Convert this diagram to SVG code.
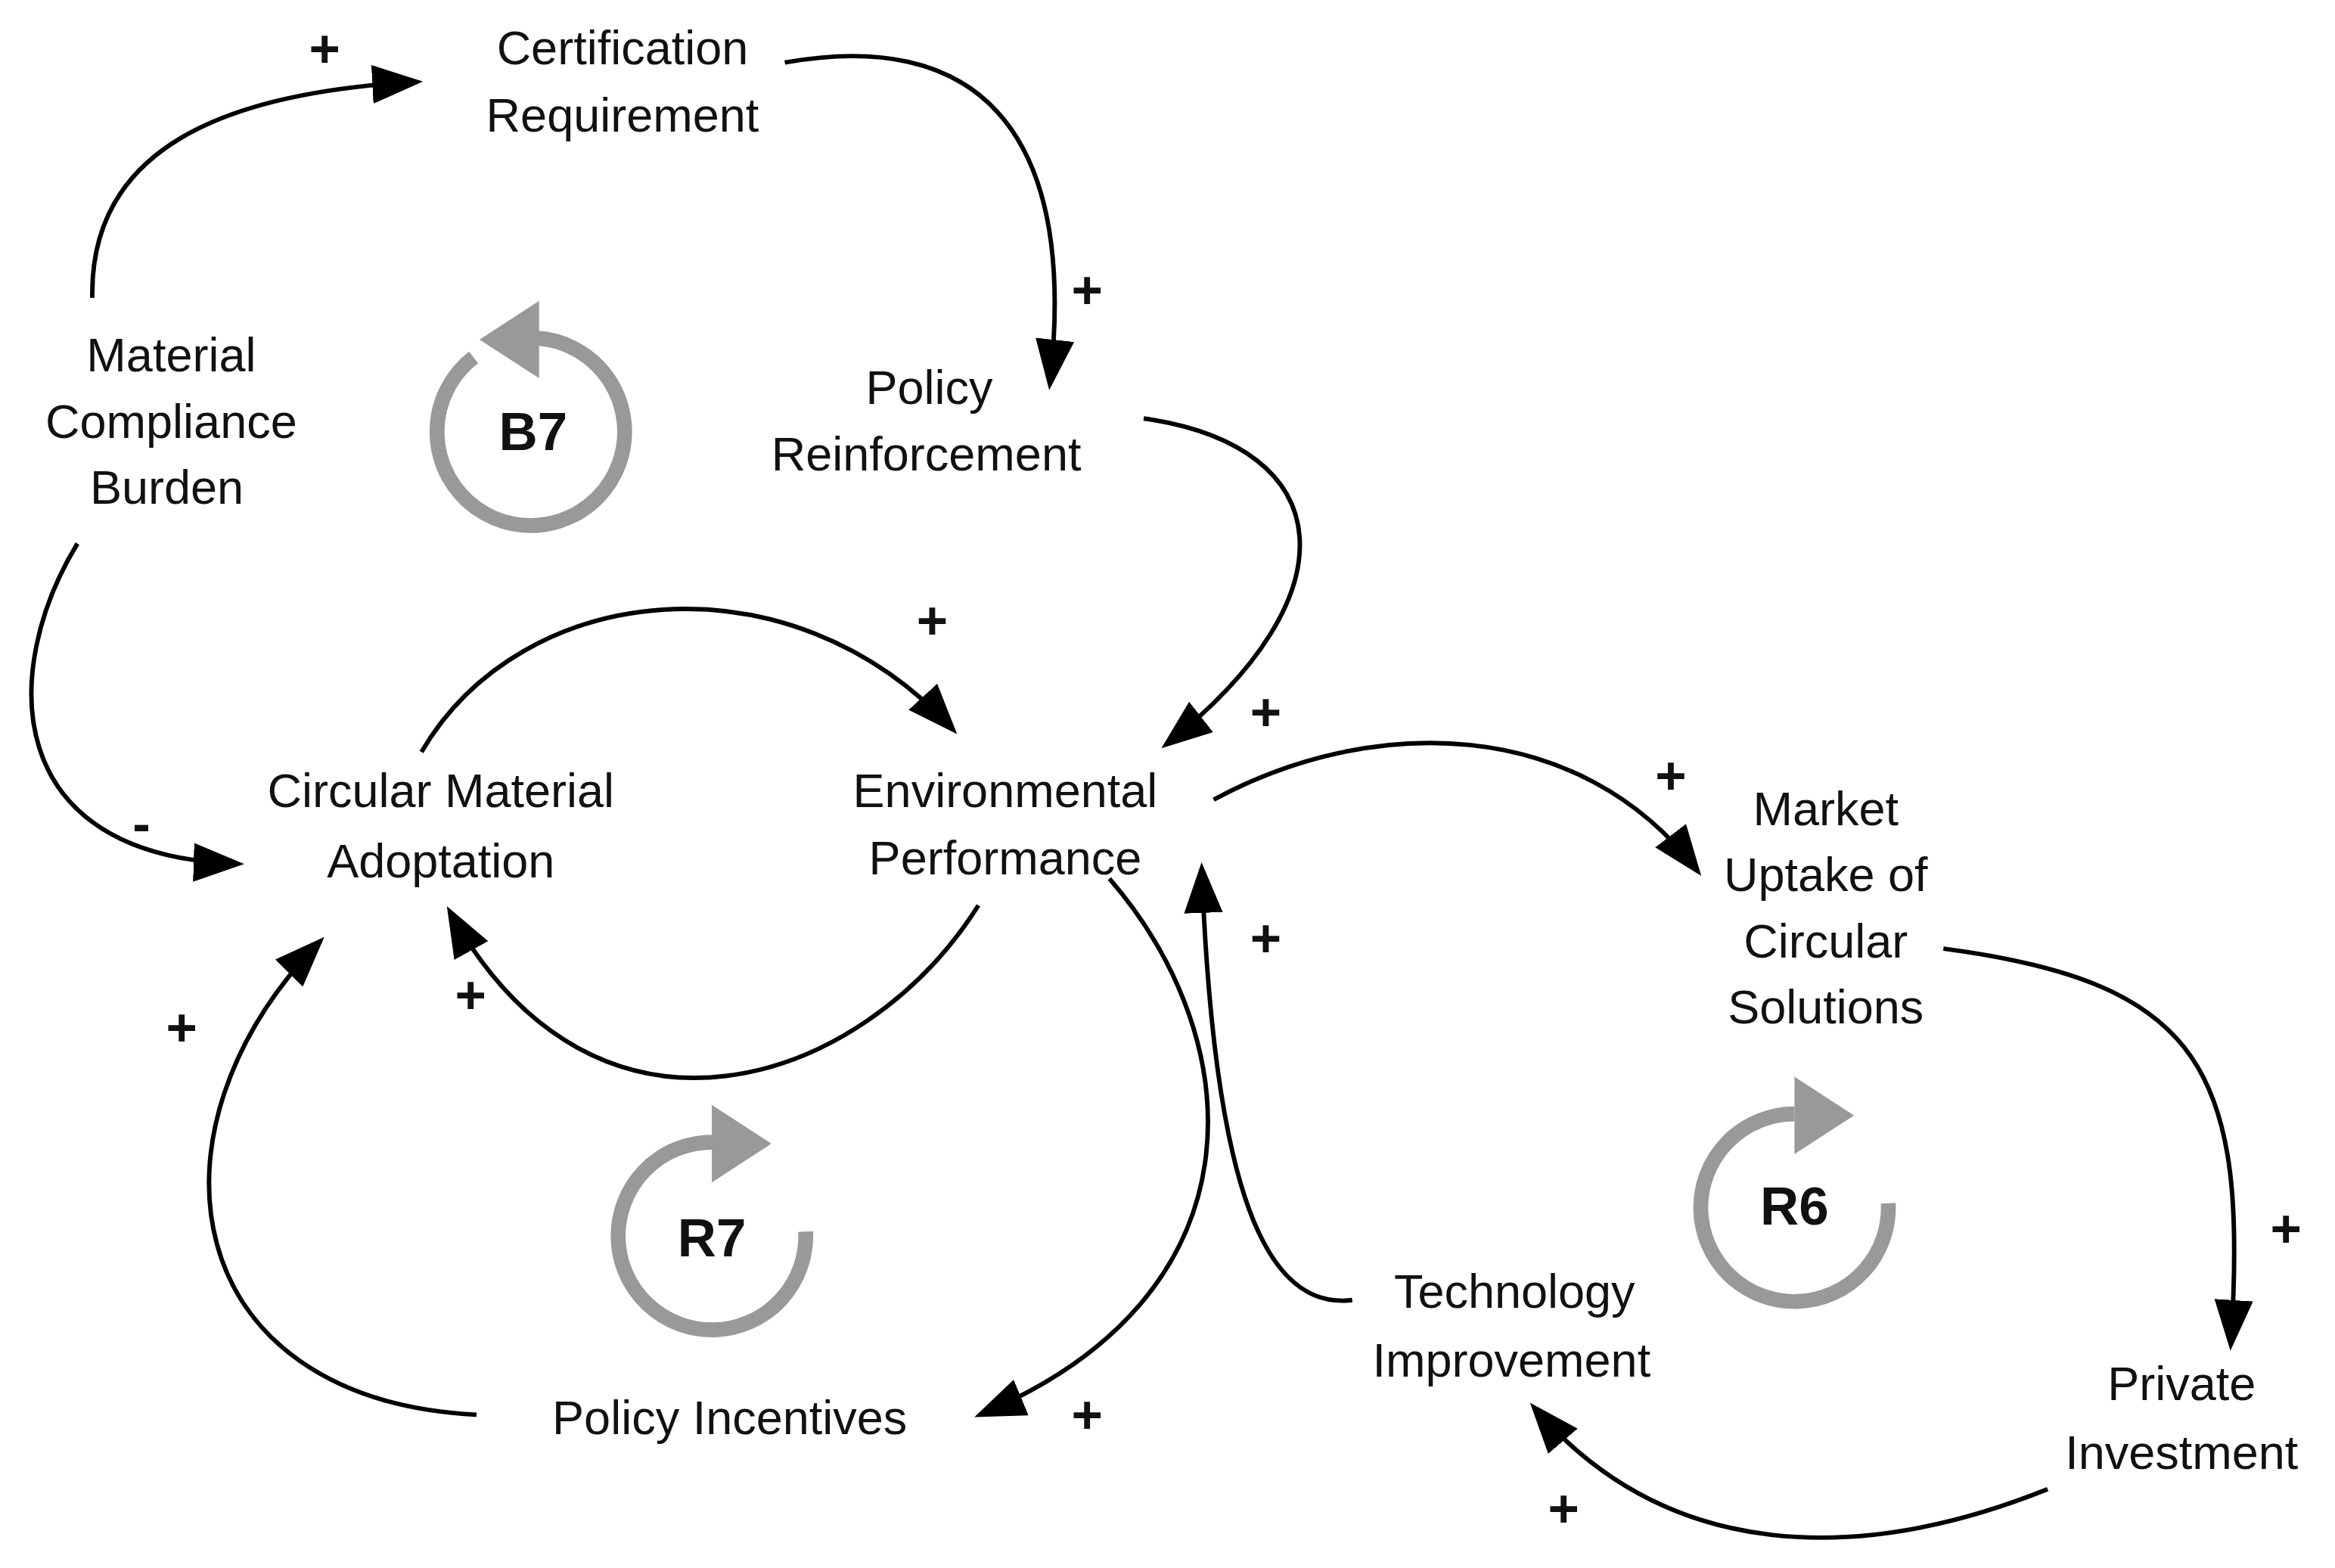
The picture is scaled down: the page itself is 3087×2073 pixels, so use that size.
<svg xmlns="http://www.w3.org/2000/svg" width="3087" height="2073" viewBox="0 0 3087 2073">
<style>
text{font-family:"Liberation Sans",Arial,sans-serif;fill:#111}
.n{font-size:32px;text-anchor:middle;dominant-baseline:central}
.p{font-size:36px;text-anchor:middle;dominant-baseline:central;font-weight:bold}
.c{fill:none;stroke:#000;stroke-width:3;marker-end:url(#ah)}
.loop{fill:none;stroke:#999;stroke-width:10}
.ll{font-size:36px;font-weight:bold;text-anchor:middle;dominant-baseline:central}
</style>
<defs>
<marker id="ah" markerUnits="userSpaceOnUse" markerWidth="34" markerHeight="26" refX="30" refY="13" orient="auto"><path d="M0,0 L34,13 L0,26 Z" fill="#000"/></marker>
</defs>
<rect width="3087" height="2073" fill="#fff"/>
<g transform="scale(1.9688)">
<g id="connectors">
<path class="c" d="M62,200 C60,100 150,62 280,55"/>
<path class="c" d="M527,42 C650,20 725,80 705,258"/>
<path class="c" d="M768,281 C900,300 910,400 783,500"/>
<path class="c" d="M52,365 C0,450 0,575 160,580"/>
<path class="c" d="M283,505 C350,390 530,370 640,490"/>
<path class="c" d="M657,608 C580,730 400,790 302,612"/>
<path class="c" d="M815,537 C920,480 1060,480 1140,585"/>
<path class="c" d="M1305,637 C1480,660 1510,720 1498,903"/>
<path class="c" d="M1375,1000 C1250,1050 1120,1050 1030,945"/>
<path class="c" d="M908,873 C850,880 815,800 807,583"/>
<path class="c" d="M745,590 C840,700 850,870 658,950"/>
<path class="c" d="M320,950 C120,940 90,760 215,632"/>
<text class="p" x="218" y="33">+</text>
<text class="p" x="730" y="195">+</text>
<text class="p" x="850" y="478">+</text>
<text class="p" x="95" y="553">-</text>
<text class="p" x="626" y="417">+</text>
<text class="p" x="316" y="668">+</text>
<text class="p" x="1122" y="521">+</text>
<text class="p" x="1535" y="825">+</text>
<text class="p" x="1050" y="1013">+</text>
<text class="p" x="850" y="630">+</text>
<text class="p" x="730" y="950">+</text>
<text class="p" x="122" y="690">+</text>
</g>
<g id="n-cert"><text class="n" x="418" y="32">Certification</text><text class="n" x="418" y="77">Requirement</text></g>
<g id="n-mcb"><text class="n" x="115" y="238">Material</text><text class="n" x="115" y="283">Compliance</text><text class="n" x="112" y="327">Burden</text></g>
<g id="n-pr"><text class="n" x="624" y="260">Policy</text><text class="n" x="622" y="305">Reinforcement</text></g>
<g id="n-cma"><text class="n" x="296" y="531">Circular Material</text><text class="n" x="296" y="578">Adoptation</text></g>
<g id="n-ep"><text class="n" x="675" y="531">Environmental</text><text class="n" x="675" y="576">Performance</text></g>
<g id="n-mu"><text class="n" x="1226" y="543">Market</text><text class="n" x="1226" y="587">Uptake of</text><text class="n" x="1226" y="632">Circular</text><text class="n" x="1226" y="676">Solutions</text></g>
<g id="n-pi"><text class="n" x="1465" y="929">Private</text><text class="n" x="1465" y="975">Investment</text></g>
<g id="n-ti"><text class="n" x="1017" y="867">Technology</text><text class="n" x="1015" y="913">Improvement</text></g>
<g id="n-pinc"><text class="n" x="490" y="952">Policy Incentives</text></g>
<g id="loop-b7">
<path class="loop" d="M318,240 A63,63 0 1 0 360,227"/>
<path d="M362,202 L362,254 L322,228 Z" fill="#999"/>
<text class="ll" x="358" y="290">B7</text>
</g>
<g id="loop-r7">
<path class="loop" d="M541,827 A63,63 0 1 1 478,767"/>
<path d="M478,742 L478,794 L518,768 Z" fill="#999"/>
<text class="ll" x="478" y="831">R7</text>
</g>
<g id="loop-r6">
<path class="loop" d="M1268,808 A63,63 0 1 1 1205,748"/>
<path d="M1205,723 L1205,775 L1245,749 Z" fill="#999"/>
<text class="ll" x="1205" y="810">R6</text>
</g>
</g>
</svg>
